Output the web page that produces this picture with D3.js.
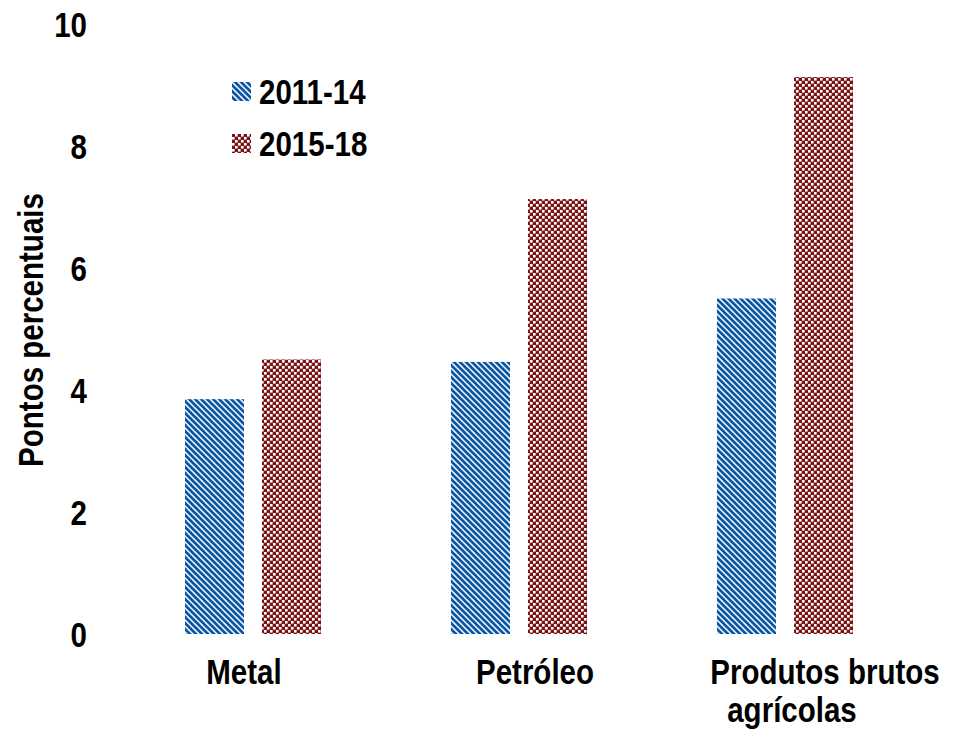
<!DOCTYPE html>
<html lang="pt">
<head>
<meta charset="UTF-8">
<title>Pontos percentuais</title>
<script src="https://d3js.org/d3.v7.min.js"></script>
<style>
    body { margin: 0; background: #fff; }
    svg { display: block; }
    text { font-family: "Liberation Sans", Arial, sans-serif; font-weight: bold; fill: #000; }
</style>
</head>
<body>
<svg id="chart"></svg>
<script>
// data
const categories = ["Metal", "Petróleo", "Produtos brutos agrícolas"];
const categoryLines = [["Metal"], ["Petróleo"], ["Produtos brutos", "agrícolas"]];
const labelShift = [[-9], [16], [40, 7]];   // Excel-ish label placement
const series = ["2011-14", "2015-18"];
const values2011 = [3.85, 4.46, 5.5];
const values2015 = [4.5, 7.13, 9.13];
const yTicks = [0, 2, 4, 6, 8, 10];

const width = 953, height = 737;
const narrow = "scale(0.82,1)";   // fake a narrow bold face
const fontSize = "36px";

const svg = d3.select("#chart").attr("width", width).attr("height", height);

// patterns
const defs = svg.append("defs");
const blue = "#0a56a6", red = "#7a1315";

const stripes = defs.append("pattern")
    .attr("id", "stripes")
    .attr("patternUnits", "userSpaceOnUse")
    .attr("width", 6).attr("height", 6);
stripes.append("rect").attr("width", 6).attr("height", 6).attr("fill", "#fff");
stripes.append("path")
    .attr("d", "M0,0L6,6M-1,5L1,7M5,-1L7,1")
    .attr("stroke", blue).attr("stroke-width", 2.7);

const checks = defs.append("pattern")
    .attr("id", "checks")
    .attr("patternUnits", "userSpaceOnUse")
    .attr("width", 6).attr("height", 6);
checks.append("rect").attr("width", 6).attr("height", 6).attr("fill", red);
checks.append("rect").attr("width", 2.6).attr("height", 2.6).attr("fill", "#fff");
checks.append("rect").attr("x", 3).attr("y", 3).attr("width", 2.6).attr("height", 2.6).attr("fill", "#fff");

const fills = { "2011-14": "url(#stripes)", "2015-18": "url(#checks)" };

// scales
const y = d3.scaleLinear().domain([0, 10]).range([634, 24]);
const x0 = d3.scaleBand().domain(categories).range([120, 918]);
const groupW = 136;
const x1 = d3.scaleBand().domain(series)
    .range([(x0.bandwidth() - groupW) / 2, (x0.bandwidth() + groupW) / 2])
    .paddingInner(0.234);

// y axis labels only (no line, no ticks)
const yAxis = svg.append("g")
    .attr("transform", "translate(87,0)")
    .call(d3.axisLeft(y).tickValues(yTicks).tickSize(0).tickPadding(0).tickFormat(d3.format("d")));
yAxis.select(".domain").remove();
yAxis.selectAll("text")
    .attr("font-family", null)
    .attr("transform", narrow)
    .style("font-size", fontSize)
    .attr("dy", "0.36em");

// bars
const rows = categories.map((c, i) => ({ cat: c, vals: [
    { s: series[0], v: values2011[i] },
    { s: series[1], v: values2015[i] }
]}));

const groups = svg.append("g").selectAll("g")
    .data(rows)
    .join("g")
    .attr("transform", d => `translate(${x0(d.cat)},0)`);

groups.selectAll("rect")
    .data(d => d.vals)
    .join("rect")
    .attr("x", d => x1(d.s))
    .attr("width", x1.bandwidth())
    .attr("y", d => y(d.v))
    .attr("height", d => y(0) - y(d.v))
    .attr("fill", d => fills[d.s]);

// category labels
categories.forEach((c, i) => {
    const cx = x0(c) + x0.bandwidth() / 2;
    categoryLines[i].forEach((line, j) => {
        svg.append("text")
            .attr("transform", `translate(${cx + labelShift[i][j]},${684 + j * 38}) ${narrow}`)
            .attr("text-anchor", "middle")
            .style("font-size", fontSize)
            .text(line);
    });
});

// y title
svg.append("text")
    .attr("transform", `translate(43,330) rotate(-90) ${narrow}`)
    .attr("text-anchor", "middle")
    .style("font-size", fontSize)
    .text("Pontos percentuais");

// legend
const legend = svg.append("g").selectAll("g")
    .data(series)
    .join("g")
    .attr("transform", (d, i) => `translate(232,${91 + i * 52})`);
legend.append("rect")
    .attr("x", 0).attr("y", -9)
    .attr("width", 19).attr("height", 19)
    .attr("fill", d => fills[d]);
legend.append("text")
    .attr("transform", `translate(27,0) ${narrow}`)
    .attr("dy", "0.36em")
    .style("font-size", fontSize)
    .text(d => d);
</script>
</body>
</html>
